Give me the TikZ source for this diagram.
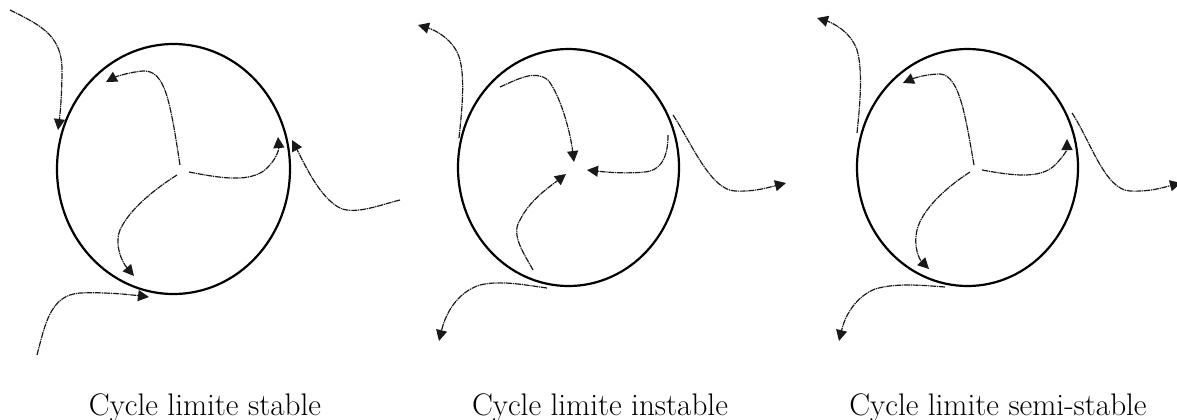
\documentclass[tikz,border=0pt]{standalone}
\usetikzlibrary{arrows.meta}

\tikzset{
  limcycle/.style={line width=1.1pt},
  traj/.style={line width=0.6pt, black!90, dash pattern=on 3pt off 0.4pt on 0.6pt off 0.4pt},
  trajarrow/.style={traj, -{Triangle[length=5.5pt,width=5.5pt]}},
  caption/.style={anchor=base, inner sep=0pt, font=\fontsize{15.6}{18}\selectfont}
}

\begin{document}
\begin{tikzpicture}[x=0.5pt,y=-0.5pt]
        \useasboundingbox (0,0) rectangle (1177,419);

        % cycle stable
        \draw[limcycle] (173.5,169) ellipse [x radius=116.5, y radius=125];
        \draw[trajarrow] (180,165) .. controls (170,100) and (165,70) .. (143,71) .. controls (130,72) and (115,77) .. (106,82);
        \draw[trajarrow] (189,172) .. controls (220,178) and (245,182) .. (262,172) .. controls (275,163) and (279,150) .. (278,137);
        \draw[trajarrow] (177,175) .. controls (150,192) and (128,212) .. (120,230) .. controls (114,245) and (122,262) .. (134,276);
        \draw[trajarrow] (10,10) .. controls (40,25) and (62,35) .. (62,70) .. controls (62,95) and (60,115) .. (58,130);
        \draw[trajarrow] (400,200) .. controls (380,205) and (355,215) .. (340,208) .. controls (320,198) and (305,165) .. (292,140);
        \draw[trajarrow] (37,355) .. controls (45,325) and (50,295) .. (80,293) .. controls (100,292) and (125,294) .. (149,297);
        \node[caption] (stable) at (205,415) {Cycle limite stable};

        % cycle instable
        \draw[limcycle] (568.5,167.5) ellipse [x radius=110.5, y radius=118.5];
        \draw[trajarrow] (500,87) .. controls (520,78) and (535,70) .. (548,80) .. controls (560,95) and (570,130) .. (574,162);
        \draw[trajarrow] (668,135) .. controls (668,150) and (665,170) .. (645,172) .. controls (625,174) and (605,172) .. (587,170);
        \draw[trajarrow] (533,270) .. controls (525,255) and (510,235) .. (520,220) .. controls (530,200) and (548,188) .. (566,174);
        \draw[trajarrow] (459,138) .. controls (462,110) and (465,80) .. (460,60) .. controls (455,40) and (435,30) .. (418,25);
        \draw[trajarrow] (673,115) .. controls (690,140) and (710,190) .. (735,191) .. controls (755,192) and (770,187) .. (786,183);
        \draw[trajarrow] (547,288) .. controls (525,285) and (500,280) .. (480,285) .. controls (458,292) and (446,312) .. (439,341);
        \node[caption] (instable) at (600,415) {Cycle limite instable};

        % cycle semi-stable
        \draw[limcycle] (967.5,167.5) ellipse [x radius=110.5, y radius=118.5];
        \draw[trajarrow] (974,165) .. controls (966,120) and (960,75) .. (940,74) .. controls (925,74) and (912,79) .. (903,83);
        \draw[trajarrow] (982,170) .. controls (1010,175) and (1040,180) .. (1055,165) .. controls (1063,157) and (1067,150) .. (1067,139);
        \draw[trajarrow] (970,172) .. controls (945,188) and (922,210) .. (917,230) .. controls (913,248) and (920,260) .. (929,269);
        \draw[trajarrow] (857,133) .. controls (860,105) and (863,70) .. (857,50) .. controls (850,30) and (830,22) .. (817,18);
        \draw[trajarrow] (1072,113) .. controls (1090,140) and (1105,190) .. (1130,191) .. controls (1150,192) and (1165,187) .. (1181,183);
        \draw[trajarrow] (945,287) .. controls (920,285) and (895,283) .. (875,289) .. controls (858,296) and (846,312) .. (839,341);
        \node[caption] (semistable) at (998,415) {Cycle limite semi-stable};
\end{tikzpicture}
\end{document}
